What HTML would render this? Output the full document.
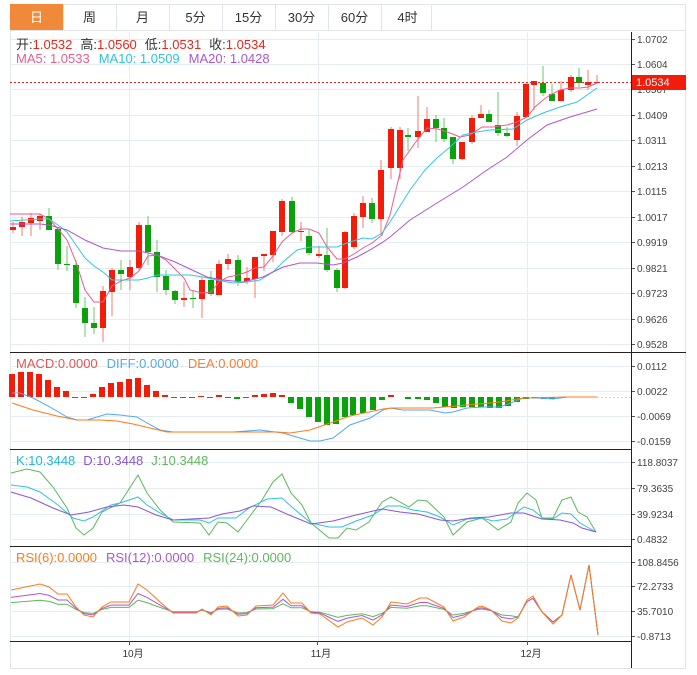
<!DOCTYPE html>
<html><head><meta charset="utf-8"><style>
body{margin:0;background:#fff;width:697px;height:675px;overflow:hidden;font-family:"Liberation Sans","Noto Sans CJK SC",sans-serif}
svg{position:absolute;left:0;top:0}
</style></head><body>
<svg id="s" width="697" height="675" xmlns="http://www.w3.org/2000/svg" font-family="Liberation Sans, Noto Sans CJK SC, sans-serif"></svg>
<script>
var s=document.getElementById('s'),h='';
function L(x1,y1,x2,y2,c,w,extra){h+='<line x1="'+x1+'" y1="'+y1+'" x2="'+x2+'" y2="'+y2+'" stroke="'+c+'" stroke-width="'+(w||1)+'" '+(extra||'')+'/>';}
function R(x,y,w,hh,f,st){h+='<rect x="'+x+'" y="'+y+'" width="'+w+'" height="'+hh+'" fill="'+f+'"'+(st?' stroke="'+st+'"':'')+'/>';}
function T(x,y,t,c,sz,anc){h+='<text x="'+x+'" y="'+y+'" fill="'+c+'" font-size="'+(sz||12)+'"'+(anc?' text-anchor="'+anc+'"':'')+'>'+t+'</text>';}
function P(pts,c,w){h+='<polyline fill="none" stroke="'+c+'" stroke-width="'+(w||1)+'" points="'+pts.map(function(p){return p[0]+','+p[1]}).join(' ')+'"/>';}
R(10.5,4.5,675,664,'none','#dfe5ea');
var tabs=['日','周','月','5分','15分','30分','60分','4时'];
R(10,4,53,26,'#f08a3a');
for(var i=0;i<8;i++){var x=10+i*53;if(i>0)L(x+0.5,4,x+0.5,30,'#dfe5ea');T(x+26.5,22,tabs[i],i==0?'#fff':'#333',13,'middle');}
L(431.5,4,431.5,30,'#dfe5ea');L(10,30.5,686,30.5,'#dfe5ea');
var my=[39,64,89,115,140,166,191,217,242,268,293,319,344],ml=['1.0702','1.0604','1.0507','1.0409','1.0311','1.0213','1.0115','1.0017','0.9919','0.9821','0.9723','0.9626','0.9528'];
my.forEach(function(y,i){L(10,y+0.5,631,y+0.5,'#e6edf2');L(631,y+0.5,635,y+0.5,'#555');T(637,y+4,ml[i],'#444',10);});
var sub=[[366,391,416,441,['0.0112','0.0022','-0.0069','-0.0159']],[462,488,514,539,['118.8037','79.3635','39.9234','0.4832']],[562,586,611,636,['108.8456','72.2733','35.7010','-0.8713']]];
sub.forEach(function(g){for(var k=0;k<4;k++){L(10,g[k]+0.5,631,g[k]+0.5,'#e6edf2');L(631,g[k]+0.5,635,g[k]+0.5,'#555');T(637,g[k]+4,g[4][k],'#444',10);}});
[129,318,527].forEach(function(x){L(x+0.5,32,x+0.5,641,'#e6edf2');});
L(10.5,32,10.5,668,'#e0e6eb');
var C=[[13,'r',227,230,222,233],[22,'r',222,227,217,236],[31,'r',218,223,213,236],[40,'r',216,221,214,230],[49,'g',216,230,208,230],[58,'g',229,264,227,270],[67,'g',264,265,246,271],[76,'g',265,303,260,308],[85,'g',308,323,297,337],[94,'g',323,328,307,334],[103,'r',291,328,286,342],[112,'r',270,292,268,316],[121,'g',270,274,260,290],[130,'r',267,277,260,290],[139,'r',225,268,222,270],[148,'g',225,252,216,265],[157,'g',252,277,240,292],[166,'g',276,290,270,295],[175,'g',291,300,290,304],[184,'r',298,300,282,307],[193,'g',298,299,290,308],
[202,'r',280,299,277,318],[211,'g',280,294,271,296],[219,'r',264,295,260,295],[228,'r',259,264,254,270],[238,'g',260,281,255,286],[247,'r',278,281,267,284],[255,'r',257,279,257,298],[264,'r',254,256,254,271],[273,'r',231,255,231,262],[282,'r',201,232,199,236],[292,'g',201,232,197,233],[301,'r',231,232,222,241],[309,'g',236,253,230,255],[319,'r',254,256,246,258],[327,'g',255,270,228,272],[337,'g',270,288,268,292],[345,'r',232,288,231,289],[354,'r',216,247,213,249],[363,'r',203,217,196,228],[372,'g',203,219,198,223],[381,'r',170,219,160,235],
[391,'r',129,168,127,179],[400,'r',130,168,127,179],[408,'g',135,137,128,151],[418,'r',131,137,96,148],[427,'r',119,132,107,132],[436,'g',119,128,115,142],[444,'g',128,139,118,142],[453,'g',137,159,137,164],[462,'r',142,159,142,160],[472,'r',118,142,115,144],[481,'r',114,118,105,118],[489,'g',114,122,110,122],[498,'g',125,133,92,136],[507,'g',133,136,127,137],[517,'r',116,140,112,146],[526,'r',84,117,83,118],[534,'r',81,85,81,110],[543,'g',83,93,66,96],[552,'g',94,101,84,101],[561,'r',90,101,81,101],[571,'r',77,90,75,92],[579,'g',77,83,68,87],[588,'r',82,85,70,90],[597,'r',82,83,75,83]];
C.forEach(function(c){var col=c[1]=='r'?'#f21c0a':'#0aa10a',wc=c[1]=='r'?'#f77a70':'#6cc66c';L(c[0],c[4],c[0],c[5],wc);R(c[0]-3,c[2],6,Math.max(1,c[3]-c[2]),col);});
P([[10,214],[40,214],[49,219],[58,229],[67,240],[76,262],[85,290],[94,302],[103,302],[112,286],[121,281],[130,278],[139,271],[148,256],[157,255],[166,260],[175,269],[184,278],[190,290],[202,293],[211,292],[219,282],[228,277],[238,275],[247,272],[255,268],[264,267],[273,256],[282,242],[292,233],[301,229],[309,229],[319,233],[327,247],[337,259],[345,259],[354,254],[363,248],[372,243],[382,235],[390,215],[403,160],[415,143],[427,128],[438,129],[450,133],[460,137],[470,135],[482,127],[493,127],[507,125],[517,122],[527,117],[535,107],[543,100],[550,95],[560,90],[570,88],[580,88],[588,87],[597,83]],'#ef5a8c');
P([[10,221],[40,219],[49,219],[58,225],[67,232],[76,245],[85,258],[94,266],[103,272],[112,280],[139,280],[148,278],[157,275],[175,275],[190,275],[203,277],[217,280],[233,283],[247,282],[260,280],[273,272],[283,262],[297,250],[310,247],[337,247],[347,243],[363,238],[372,239],[382,233],[390,222],[410,190],[425,170],[437,158],[450,147],[463,135],[477,132],[490,130],[513,129],[527,120],[543,113],[560,107],[577,102],[597,88]],'#35c6df');
P([[10,224],[40,224],[49,225],[67,230],[85,240],[103,248],[121,251],[139,251],[157,255],[175,262],[190,269],[207,277],[223,280],[243,282],[263,277],[283,267],[300,263],[317,263],[333,265],[343,263],[357,257],[370,250],[383,242],[390,237],[410,220],[437,203],[463,187],[487,170],[507,157],[527,140],[547,125],[570,117],[597,109]],'#b055cf');
L(10,82.5,631,82.5,'#e8261a',1,'stroke-dasharray="2,2"');
R(632,75,54,15,'#f21c0a');T(636,86,'1.0534','#fff',11);
h+='<text x="16" y="49" font-size="13"><tspan fill="#333">开:</tspan><tspan fill="#e8261a">1.0532</tspan><tspan fill="#333" dx="8">高:</tspan><tspan fill="#e8261a">1.0560</tspan><tspan fill="#333" dx="8">低:</tspan><tspan fill="#e8261a">1.0531</tspan><tspan fill="#333" dx="8">收:</tspan><tspan fill="#e8261a">1.0534</tspan></text>';
h+='<text x="16" y="63" font-size="13"><tspan fill="#ef5a8c">MA5: 1.0533</tspan><tspan fill="#2ec2de" dx="9">MA10: 1.0509</tspan><tspan fill="#ae55cf" dx="9">MA20: 1.0428</tspan></text>';
h+='<text x="16" y="368" font-size="13"><tspan fill="#f05050">MACD:0.0000</tspan><tspan fill="#55a8f0" dx="9">DIFF:0.0000</tspan><tspan fill="#ff7a2a" dx="9">DEA:0.0000</tspan></text>';
h+='<text x="16" y="465" font-size="13"><tspan fill="#22b8d8">K:10.3448</tspan><tspan fill="#8a55d8" dx="8">D:10.3448</tspan><tspan fill="#5cb85c" dx="8">J:10.3448</tspan></text>';
h+='<text x="16" y="562" font-size="13"><tspan fill="#ff7a1a">RSI(6):0.0000</tspan><tspan fill="#b055cf" dx="9">RSI(12):0.0000</tspan><tspan fill="#5cb85c" dx="9">RSI(24):0.0000</tspan></text>';
var M=[[12,374],[21,372],[30,372],[39,374],[48,380],[57,387],[66,391],[75,398],[84,398],[93,394],[102,387],[111,383],[120,382],[129,379],[138,378],[147,385],[156,391],[165,395],[174,398],[183,398],[192,398],[201,396],[210,398],[219,395],[228,398],[237,399],[246,398],[255,395],[264,394],[273,393],[282,395],[291,403],[300,409],[309,417],[318,422],[327,425],[336,424],[345,417],[353,415],[363,413],[373,410],[382,400],[391,395],[408,399],[418,399],[427,400],[436,403],[445,407],[454,408],[463,407],[472,407],[481,407],[490,408],[499,408],[508,406],[517,402],[526,399],[535,398],[544,399],[552,399],[562,398]];
M.forEach(function(m){var z=397;if(m[1]<z)R(m[0]-3,m[1],6,z-m[1],'#f21c0a');else R(m[0]-3,z,6,Math.max(1,m[1]-z),'#0aa10a');});
L(597,397.5,631,397.5,'#b8def0',1,'stroke-dasharray="2,2"');
P([[12,393],[20,393],[33,398],[50,407],[67,417],[77,420],[87,420],[97,417],[107,414],[120,415],[137,417],[147,423],[160,430],[173,432],[200,432],[233,432],[260,430],[283,433],[300,438],[310,441],[320,441],[333,438],[350,425],[370,418],[383,410],[390,408],[403,410],[430,410],[445,413],[453,412],[467,408],[483,407],[500,407],[513,402],[523,398],[537,398],[553,399],[567,397],[597,397]],'#55a8f0');
P([[12,403],[33,410],[57,416],[77,420],[100,420],[117,421],[133,424],[150,428],[167,432],[277,432],[290,433],[310,430],[333,422],[350,416],[383,409],[393,408],[433,408],[467,405],[500,402],[523,398],[567,397],[597,397]],'#ff7a1a');
P([[11,473],[27,469],[40,472],[53,487],[67,508],[76,528],[84,535],[93,528],[102,512],[120,503],[138,475],[147,493],[160,510],[173,522],[200,523],[209,535],[218,522],[227,523],[238,532],[247,520],[262,500],[273,482],[282,474],[291,493],[302,505],[311,523],[329,538],[338,538],[347,528],[356,530],[369,522],[382,502],[391,497],[409,507],[418,500],[427,501],[444,517],[453,535],[467,522],[482,518],[489,523],[498,530],[511,522],[518,503],[527,493],[536,500],[542,518],[553,518],[562,500],[571,497],[578,512],[587,517],[596,532]],'#5cb85c');
P([[11,485],[27,487],[40,492],[58,505],[73,518],[84,521],[93,517],[111,505],[120,503],[138,497],[147,505],[160,513],[173,520],[200,520],[209,523],[218,518],[236,518],[249,508],[267,499],[282,498],[293,508],[311,523],[329,527],[342,527],[356,521],[373,515],[387,506],[400,506],[413,510],[427,512],[440,517],[453,525],[467,519],[482,518],[493,521],[507,519],[524,507],[533,510],[544,519],[553,519],[562,513],[571,514],[580,523],[596,532]],'#2ec2de');
P([[11,492],[31,498],[53,508],[71,515],[89,512],[107,507],[124,505],[138,507],[156,515],[173,520],[209,518],[222,514],[240,511],[253,506],[271,507],[289,515],[311,524],[333,521],[356,515],[382,509],[400,512],[418,514],[440,520],[453,521],[471,518],[489,517],[511,513],[524,513],[542,519],[560,520],[573,523],[582,528],[596,532]],'#8a55d8');
var r6=[[11,590],[40,584],[49,587],[58,594],[67,594],[76,607],[84,615],[93,617],[102,607],[111,602],[129,602],[138,584],[147,590],[160,602],[173,613],[196,613],[202,609],[211,615],[218,607],[227,606],[238,616],[247,615],[256,606],[273,605],[283,593],[291,603],[302,603],[311,613],[320,614],[338,627],[347,622],[362,618],[373,625],[382,617],[391,602],[407,604],[420,598],[427,598],[444,607],[453,621],[464,617],[478,607],[482,606],[491,610],[502,621],[511,623],[518,618],[527,600],[533,596],[542,612],[553,624],[562,615],[571,575],[580,610],[589,565],[598,635]];
function sc(f){return r6.map(function(p){var k=p[0]>=560?1:(p[0]>=518?0.85:f);return [p[0],(611+k*(p[1]-611)).toFixed(1)];});}
P(sc(0.4),'#5cb85c');P(sc(0.65),'#b055cf');P(r6,'#ff7a1a');
L(10,352.5,686,352.5,'#222');L(10,449.5,631,449.5,'#222');L(10,546.5,631,546.5,'#222');L(10,641.5,631,641.5,'#222');
L(631.5,32,631.5,668,'#222');
[[133,'10月'],[321,'11月'],[531,'12月']].forEach(function(a){L(a[0]-4+0.5,641,a[0]-4+0.5,645,'#555');T(a[0],657,a[1],'#333',10,'middle');});
s.innerHTML=h;
</script>
</body></html>
